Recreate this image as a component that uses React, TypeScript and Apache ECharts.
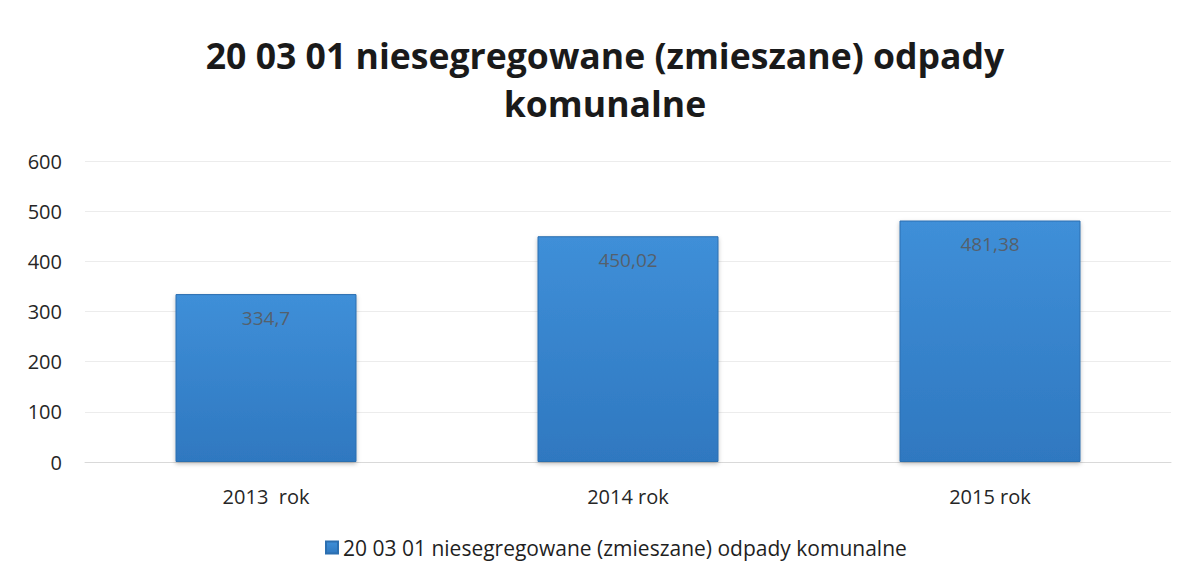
import React, { useEffect, useRef } from "react";
import * as echarts from "echarts";

const titleText = "20 03 01 niesegregowane (zmieszane) odpady\nkomunalne";
const seriesName = "20 03 01 niesegregowane (zmieszane) odpady komunalne";
const categories = ["2013  rok", "2014 rok", "2015 rok"];
const values = [334.7, 450.02, 481.38];
const valueLabels = ["334,7", "450,02", "481,38"];

export default function App() {
  const ref = useRef<HTMLDivElement>(null);
  useEffect(() => {
    const chart = echarts.init(ref.current!, null, { renderer: "svg" });
    chart.setOption({
      animation: false,
      backgroundColor: "#ffffff",
      textStyle: { fontFamily: "Open Sans" },
      title: {
        text: titleText,
        left: 600,
        textAlign: "center",
        top: 26,
        textStyle: {
          fontFamily: "Open Sans",
          fontWeight: "bold",
          fontSize: 35.6,
          lineHeight: 48,
          color: "#1a1a1a",
        },
      },
      legend: {
        bottom: 24,
        left: 320,
        itemWidth: 12,
        itemHeight: 12,
        itemGap: 6,
        icon: "rect",
        textStyle: { fontFamily: "Open Sans", fontSize: 21, color: "#1f1f1f" },
        data: [seriesName],
      },
      grid: { left: 85, right: 25, top: 161, bottom: 125 },
      xAxis: {
        type: "category",
        data: categories,
        axisTick: { show: false },
        axisLine: { lineStyle: { color: "#d9d9d9" } },
        axisLabel: { fontSize: 20, color: "#262626", margin: 24 },
      },
      yAxis: {
        type: "value",
        min: 0,
        max: 600,
        interval: 100,
        axisLabel: { fontSize: 20, color: "#262626", margin: 23 },
        splitLine: { lineStyle: { color: "#ececec" } },
        axisLine: { show: false },
      },
      series: [
        {
          name: seriesName,
          type: "bar",
          barWidth: "50%",
          data: values,
          itemStyle: {
            color: new echarts.graphic.LinearGradient(0, 0, 0, 1, [
              { offset: 0, color: "#3f8fd8" },
              { offset: 1, color: "#2f78c0" },
            ]),
            borderColor: "#2c6fb0",
            borderWidth: 1,
            shadowColor: "rgba(0,0,0,0.25)",
            shadowBlur: 4,
            shadowOffsetY: 2,
          },
          label: {
            show: true,
            position: "insideTop",
            distance: 14,
            fontSize: 19,
            color: "#55606c",
            formatter: (p: any) => valueLabels[p.dataIndex],
          },
        },
      ],
    });
    return () => chart.dispose();
  }, []);
  return (
    <div
      ref={ref}
      style={{ position: "fixed", left: 0, top: 0, width: 1196, height: 587 }}
    />
  );
}
